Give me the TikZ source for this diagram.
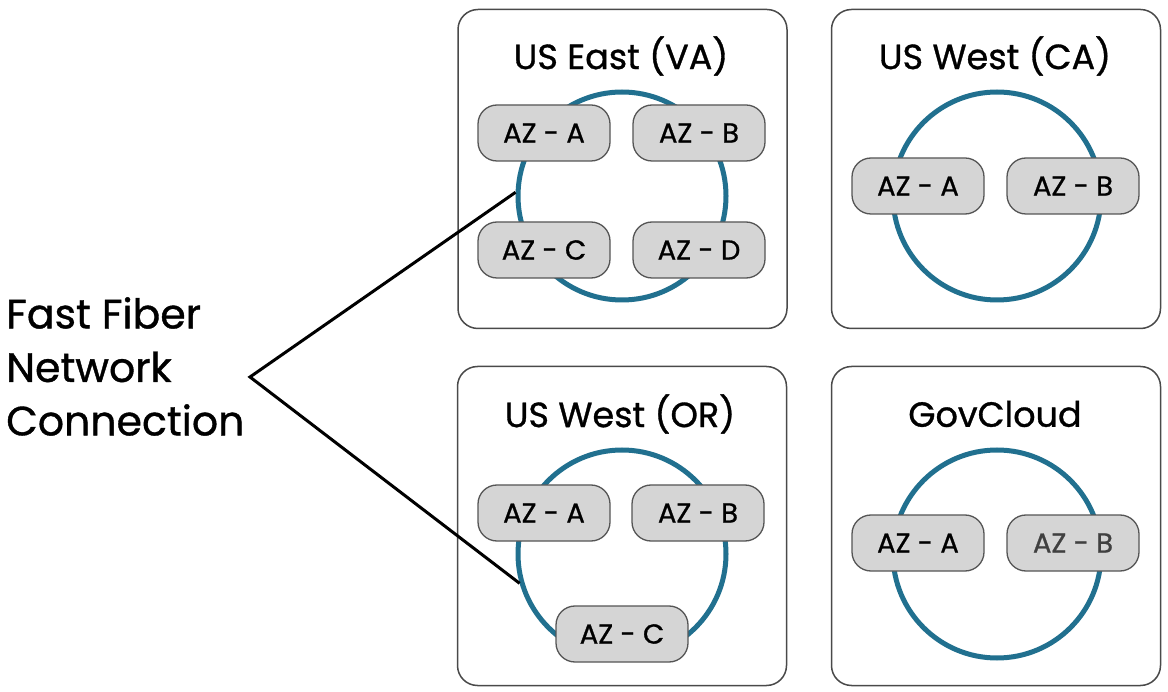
\documentclass[tikz,border=0pt]{standalone}
\usepackage{fontspec}
\setmainfont{Poppins}[FakeBold=0.9]
\definecolor{ring}{HTML}{21708F}
\definecolor{pillfill}{HTML}{D5D5D5}
\definecolor{pilledge}{HTML}{555555}
\definecolor{boxedge}{HTML}{4A4A4A}
\begin{document}
\begin{tikzpicture}[x=1pt,y=-1pt,
  region/.style={draw=boxedge,line width=1.5pt,rounded corners=20pt,minimum width=329pt,minimum height=319pt,inner sep=0pt},
  ring/.style={circle,draw=ring,line width=5pt,minimum size=208pt,inner sep=0pt},
  pill/.style={draw=pilledge,fill=pillfill,line width=1.3pt,rounded corners=19pt,minimum width=132pt,minimum height=56pt,inner sep=0pt,font=\fontsize{27.5}{27.5}\selectfont},
  title/.style={font=\fontsize{35}{35}\selectfont,inner sep=0pt},
  fiber/.style={black,line width=3pt}]
\useasboundingbox (0,0) rectangle (1168,692);
% region boxes
\node[region] (bEast) at (622.5,169) {};
\node[region] (bCA) at (996,169) {};
\node[region] (bOR) at (622,526) {};
\node[region] (bGov) at (996,526) {};
% titles
\node[title] (tEast) at (621,56) {US East (VA)};
\node[title] (tCA) at (995,56) {US West (CA)};
\node[title] (tOR) at (620,414) {US West (OR)};
\node[title] (tGov) at (995,414) {GovCloud};
% rings
\node[ring] (cEast) at (622,196) {};
\node[ring] (cCA) at (997,196) {};
\node[ring] (cOR) at (622,554) {};
\node[ring] (cGov) at (997,554) {};
% AZ pills
\node[pill] (eA) at (544,133) {AZ - A};
\node[pill] (eB) at (699,133) {AZ - B};
\node[pill] (eC) at (544,250) {AZ - C};
\node[pill] (eD) at (699,250) {AZ - D};
\node[pill] (caA) at (918,186) {AZ - A};
\node[pill] (caB) at (1073,186) {AZ - B};
\node[pill] (oA) at (544,513) {AZ - A};
\node[pill] (oB) at (698,513) {AZ - B};
\node[pill] (oC) at (622,634) {AZ - C};
\node[pill] (gA) at (918,543) {AZ - A};
\node[pill,text=black!75] (gB) at (1073,543) {AZ - B};
% label
\node[anchor=north west,align=left,inner sep=0pt,font=\fontsize{41}{53.5}\selectfont] (lbl) at (6,297) {Fast Fiber\\Network\\Connection};
% fiber connection
\coordinate (apex) at (250,377);
\draw[fiber] (cEast.178) -- (apex) -- (cOR.196);
\end{tikzpicture}
\end{document}
